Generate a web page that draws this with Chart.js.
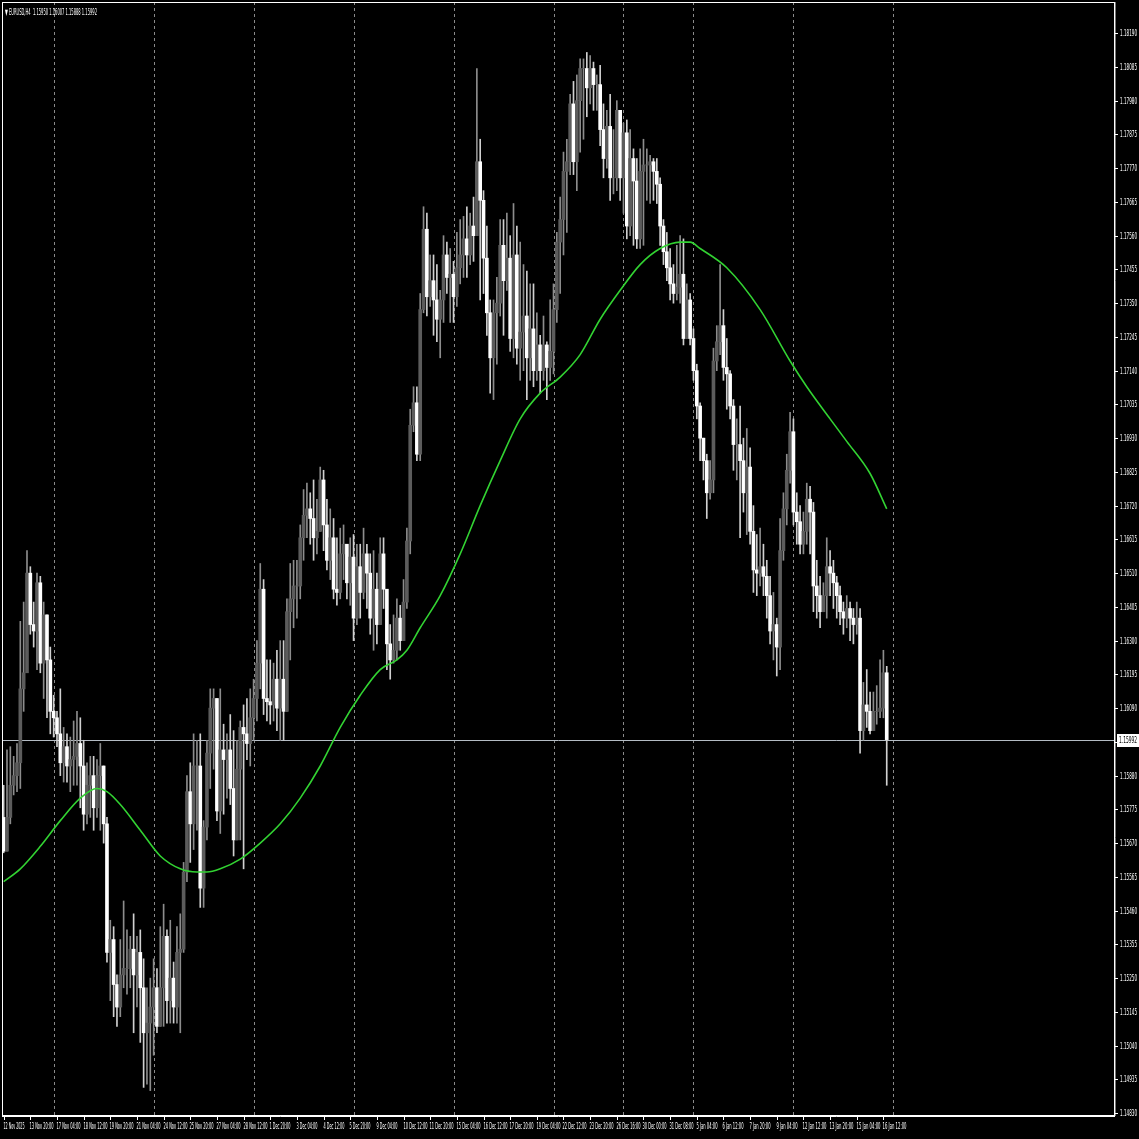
<!DOCTYPE html>
<html>
<head>
<meta charset="utf-8">
<style>
  html, body { margin: 0; padding: 0; background: #000; }
  #wrap { width: 1139px; height: 1139px; }
</style>
<script src="https://cdn.jsdelivr.net/npm/chart.js@4.4.1/dist/chart.umd.min.js"></script>
</head>
<body>
<div id="wrap"><canvas id="chart" width="1139" height="1139"></canvas></div>
<script>
// EURUSD H4, 12 Nov 2025 12:00 .. 16 Jan 2026 16:00
const firstOpen = 1.1575;
const closes = [
  1.15645,1.1575,1.1585,1.1588, 1.1592,1.1615,1.1620, 1.1651,1.1635,1.1633, 1.1648,1.1623,1.1638,
  1.1624,1.1608,1.1606, 1.1601,1.1592,1.1597, 1.1591,1.1593,1.1594, 1.1598,1.1591,1.1576,
  1.1585,1.1588,1.1578, 1.1588,1.1591,1.1573, 1.1533,1.1537,1.1523, 1.1516,1.1526,1.1528,
  1.1528,1.1534,1.1526, 1.1533,1.1522,1.1508, 1.1511,1.1516,1.1522, 1.1510,1.1522,1.1538,
  1.1518,1.1525,1.1516, 1.1533,1.1534,1.1558, 1.1583,1.1573,1.1591, 1.1591,1.1553,1.1572,
  1.1595,1.1609,1.1612, 1.1577,1.1596,1.1593, 1.1596,1.1584,1.1568, 1.1590,1.1603,1.1601,
  1.1598,1.1606,1.1612, 1.1623,1.1646,1.1612, 1.1611,1.1610,1.1618, 1.1609,1.1618,1.1608,
  1.1639,1.1643,1.1647, 1.1647,1.1662,1.1669, 1.1671,1.1668,1.1662, 1.1664,1.1680,1.1666,
  1.1655,1.1662,1.1646, 1.1645,1.1657,1.1660, 1.1648,1.1656,1.1637, 1.1653,1.1645,1.1657,
  1.1651,1.1637,1.1646, 1.1635,1.1657,1.1646, 1.1629,1.1624,1.1627, 1.1637,1.1630,1.1642,
  1.1661,
  1.1697,1.1704,1.1688,1.1733,1.1758,1.1737,1.1742,1.1736,1.1730,1.1736,
  1.1750,1.1743,1.1744,1.1737,1.1746,1.1750,1.1755,1.1750,1.1759,1.1756,
  1.1779,1.1767,1.1749,1.1732,1.1718,1.1732,1.1735,1.1753,1.1742,1.1749,
  1.1724,1.1750,1.1721,1.1726,1.1731,1.1718,1.1727,1.1714,1.1722,1.1714,
  1.1722,1.1715,1.1720,1.1733,1.1754,1.1761,1.1776,1.1779,1.1797,1.1779,
  1.1798,1.1808,1.1808,1.1802,1.1808,1.1803,
  1.1803,1.1789,1.1780, 1.1790,1.1774,1.1774, 1.1795,1.1774,1.1788, 1.1759,1.1780,1.1773,
  1.1755,1.1776,1.1778, 1.1778,1.1779,1.1776, 1.1772,1.1759,1.1751, 1.1746,1.1741,1.1738,
  1.1740,1.1744,1.1724,
  1.1736,1.1724,1.1714,1.1703,1.1693,1.1686,1.1676,1.1680,1.1717,1.1723,1.1728,1.1715,1.1713,1.1703,1.1691,1.1691,
  1.1686,1.1676,1.1684,1.1664,1.1652,1.1651,1.1653,1.1650,1.1644,1.1633,
  1.1635,1.1628,1.1658,1.1671,1.1683,1.1695,1.1670,1.1667,1.1660,1.1664,
  1.1674,1.1670,1.1647,1.1644,1.1639,1.1644,1.1653,1.1651,1.1648,1.1644,
  1.1639,1.1637,1.1640,1.1637,1.1635,1.1637,1.1602,1.1610,1.1608,1.1602,
  1.1608,1.1608,1.1609,1.1620,1.15992
];
const highs = [
  1.1585,1.1596,1.1597,1.1594, 1.1598,1.1636,1.1642, 1.1658,1.1653,1.1642, 1.1651,1.1650,1.1642,
  1.1627,1.1628,1.1613, 1.1608,1.1615,1.1603, 1.1601,1.1600,1.1605, 1.1608,1.1606,1.1599,
  1.1592,1.1594,1.1594, 1.1593,1.1598,1.1588, 1.1575,1.1543,1.1541, 1.1526,1.1537,1.1549,
  1.1540,1.1538,1.1545, 1.1538,1.1540,1.1531, 1.1522,1.1525,1.1531, 1.1528,1.1541,1.1548,
  1.1540,1.1543,1.1530, 1.1541,1.1545,1.1561, 1.1588,1.1592,1.1601, 1.1599,1.1601,1.1574,
  1.1599,1.1615,1.1615, 1.1610,1.1615,1.1604, 1.1601,1.1607,1.1602, 1.1599,1.1605,1.1610,
  1.1612,1.1615,1.1618, 1.1630,1.1654,1.1649, 1.1624,1.1624,1.1623, 1.1627,1.1630,1.1630,
  1.1643,1.1654,1.1655, 1.1655,1.1666,1.1677, 1.1679,1.1676,1.1680, 1.1674,1.1684,1.1683,
  1.1674,1.1671,1.1668, 1.1662,1.1665,1.1666, 1.1660,1.1662,1.1663, 1.1660,1.1660,1.1665,
  1.1660,1.1657,1.1658, 1.1651,1.1662,1.1662, 1.1640,1.1635,1.1638, 1.1643,1.1641,1.1649,
  1.1665,
  1.1702,1.1709,1.1709,1.1738,1.1765,1.1763,1.1750,1.1750,1.1747,1.1739,
  1.1756,1.1754,1.1752,1.1748,1.1757,1.1761,1.1762,1.1765,1.1763,1.1768,
  1.1808,1.1786,1.1770,1.1759,1.1736,1.1736,1.1743,1.1761,1.1761,1.1763,
  1.1756,1.1766,1.1759,1.1754,1.1747,1.1745,1.1741,1.1741,1.1732,1.1725,
  1.1731,1.1723,1.1736,1.1741,1.1757,1.1768,1.1782,1.1786,1.1800,1.1804,
  1.1806,1.1811,1.1811,1.1813,1.1812,1.1810,
  1.1806,1.1809,1.1797, 1.1795,1.1800,1.1789, 1.1798,1.1794,1.1791, 1.1792,1.1789,1.1783,
  1.1780,1.1783,1.1786, 1.1783,1.1781,1.1780, 1.1780,1.1774,1.1761, 1.1757,1.1752,1.1747,
  1.1753,1.1756,1.1755,
  1.1741,1.1738,1.1727,1.1716,1.1704,1.1693,1.1688,1.1686,1.1721,1.1728,1.1747,1.1733,1.1724,1.1714,1.1705,1.1699,
  1.1703,1.1693,1.1696,1.1690,1.1672,1.1663,1.1665,1.1660,1.1655,1.1650,
  1.1645,1.1637,1.1668,1.1676,1.1688,1.1701,1.1699,1.1676,1.1672,1.1670,
  1.1679,1.1678,1.1673,1.1655,1.1650,1.1648,1.1662,1.1658,1.1655,1.1650,
  1.1647,1.1642,1.1644,1.1642,1.1640,1.1642,1.1640,1.1617,1.1621,1.1614,
  1.1614,1.1616,1.1624,1.1627,1.1622
];
const lows = [
  1.1564,1.1565,1.1573,1.1582, 1.1583,1.1584,1.1608, 1.1633,1.1632,1.1628, 1.1621,1.1620,1.1612,
  1.1606,1.1601,1.1600, 1.1597,1.1588,1.1586, 1.1586,1.1583,1.1585, 1.1585,1.1578,1.1571,
  1.1573,1.1575,1.1571, 1.1575,1.1571,1.1567, 1.1530,1.1518,1.1513, 1.1510,1.1513,1.1522,
  1.1520,1.1522,1.1508, 1.1516,1.1505,1.1491, 1.1492,1.1490,1.1501, 1.1508,1.1510,1.1510,
  1.1511,1.1511,1.1511, 1.1511,1.1508,1.1533, 1.1555,1.1561,1.1565, 1.1571,1.1547,1.1547,
  1.1568,1.1584,1.1590, 1.1574,1.1570,1.1576, 1.1581,1.1579,1.1563, 1.1570,1.1568,1.1559,
  1.1593,1.1591,1.1599, 1.1605,1.1615,1.1607, 1.1605,1.1604,1.1605, 1.1602,1.1599,1.1599,
  1.1612,1.1624,1.1634, 1.1637,1.1643,1.1655, 1.1662,1.1660,1.1655, 1.1657,1.1665,1.1658,
  1.1652,1.1649,1.1643, 1.1641,1.1643,1.1649, 1.1643,1.1641,1.1630, 1.1635,1.1637,1.1643,
  1.1640,1.1632,1.1627, 1.1629,1.1637,1.1640, 1.1621,1.1618,1.1623, 1.1624,1.1627,1.1630,
  1.1640,
  1.1657,1.1695,1.1686,1.1686,1.1732,1.1731,1.1734,1.1725,1.1723,1.1718,
  1.1729,1.1738,1.1729,1.1729,1.1734,1.1741,1.1743,1.1743,1.1747,1.1748,
  1.1757,1.1736,1.1738,1.1725,1.1707,1.1705,1.1716,1.1731,1.1725,1.1739,
  1.1720,1.1718,1.1716,1.1711,1.1714,1.1705,1.1711,1.1709,1.1711,1.1707,
  1.1711,1.1705,1.1711,1.1713,1.1729,1.1738,1.1750,1.1757,1.1775,1.1775,
  1.1770,1.1782,1.1786,1.1793,1.1797,1.1795,
  1.1795,1.1784,1.1774, 1.1777,1.1767,1.1769, 1.1770,1.1767,1.1763, 1.1755,1.1756,1.1753,
  1.1752,1.1752,1.1753, 1.1767,1.1766,1.1767, 1.1766,1.1753,1.1747, 1.1742,1.1736,1.1735,
  1.1736,1.1735,1.1722,
  1.1732,1.1722,1.1711,1.1699,1.1686,1.1680,1.1668,1.1674,1.1676,1.1714,1.1719,1.1711,1.1702,1.1699,1.1683,1.1680,
  1.1662,1.1670,1.1663,1.1660,1.1645,1.1644,1.1647,1.1644,1.1637,1.1629,
  1.1624,1.1619,1.1621,1.1655,1.1666,1.1679,1.1666,1.1660,1.1657,1.1657,
  1.1660,1.1657,1.1639,1.1637,1.1634,1.1639,1.1637,1.1644,1.1640,1.1637,
  1.1635,1.1632,1.1634,1.1630,1.1629,1.1632,1.1595,1.1599,1.1603,1.1601,
  1.1604,1.1604,1.1606,1.1606,1.1585
];
// moving average (green) read at bar positions
const maBars = [0,5,11,17,23,28,31,35,41,47,53,58,61,65,71,77,83,89,95,101,107,113,118,121,125,131,137,143,149,155,161,167,173,179,185,191,197,203,206,209,217,227,236,241,248,253,260,265];
const maValues = [1.1555,1.1559,1.1566,1.1574,1.1581,1.1584,1.1583,1.1579,1.1571,1.1563,1.1559,1.1558,1.1558,1.1559,1.1562,1.1567,1.1573,1.1581,1.1591,1.1603,1.1613,1.1621,1.1624,1.1627,1.1634,1.1644,1.1657,1.1672,1.1686,1.1699,1.1707,1.1712,1.1719,1.1730,1.1739,1.1747,1.1752,1.1754,1.1754,1.1752,1.1746,1.1733,1.1717,1.1709,1.1699,1.1692,1.1682,1.1671];
// time labels, one every 8 bars
const timeLabels = ['12 Nov 2025','13 Nov 20:00','17 Nov 04:00','18 Nov 12:00','19 Nov 20:00','21 Nov 04:00','24 Nov 12:00','25 Nov 20:00','27 Nov 04:00','28 Nov 12:00','1 Dec 20:00','3 Dec 04:00','4 Dec 12:00','5 Dec 20:00','9 Dec 04:00','10 Dec 12:00','11 Dec 20:00','15 Dec 04:00','16 Dec 12:00','17 Dec 20:00','19 Dec 04:00','22 Dec 12:00','23 Dec 20:00','26 Dec 16:00','30 Dec 00:00','31 Dec 08:00','5 Jan 04:00','6 Jan 12:00','7 Jan 20:00','9 Jan 04:00','12 Jan 12:00','13 Jan 20:00','15 Jan 04:00','16 Jan 12:00'];
const weekStartBars = [15,45,75,105,135,165,186,207,237,267];
const priceTicks = [1.14830,1.14935,1.15040,1.15145,1.15250,1.15355,1.15460,1.15565,1.15670,1.15775,1.15880,1.15985,1.16090,1.16195,1.16300,1.16405,1.16510,1.16615,1.16720,1.16825,1.16930,1.17035,1.17140,1.17245,1.17350,1.17455,1.17560,1.17665,1.17770,1.17875,1.17980,1.18085,1.18190];
const lastPrice = 1.15992;
const title = '\u25BC EURUSD,H4  1.15950 1.16007 1.15888 1.15992';
const totalSlots = 334;

const opens = closes.map((c, i) => i === 0 ? firstOpen : closes[i - 1]);
const slots = Array.from({ length: totalSlots }, (_, i) => i);
const bull = closes.map((c, i) => c >= opens[i]);

const wickData = closes.map((c, i) => [Math.min(lows[i], opens[i], c), Math.max(highs[i], opens[i], c)]);
const bodyData = closes.map((c, i) => [opens[i], c]);

const font = '8px "DejaVu Sans", sans-serif';

const decor = {
  id: 'decor',
  beforeDatasetsDraw(chart) {
    const { ctx, chartArea: a, scales: { x, y } } = chart;
    ctx.save();
    ctx.strokeStyle = '#8a8a8a';
    ctx.lineWidth = 1;
    ctx.setLineDash([3, 3]);
    weekStartBars.forEach(b => {
      const px = Math.round(x.getPixelForValue(b)) + 0.5;
      ctx.beginPath(); ctx.moveTo(px, a.top); ctx.lineTo(px, a.bottom); ctx.stroke();
    });
    ctx.setLineDash([]);
    // current price line
    const py = Math.round(y.getPixelForValue(lastPrice)) + 0.5;
    ctx.strokeStyle = '#b4bcc4';
    ctx.beginPath(); ctx.moveTo(a.left, py); ctx.lineTo(a.right, py); ctx.stroke();
    ctx.restore();
  },
  afterDraw(chart) {
    const { ctx, chartArea: a, scales: { x, y } } = chart;
    ctx.save();
    // frame
    ctx.strokeStyle = '#ffffff';
    ctx.lineWidth = 1;
    ctx.strokeRect(a.left + 0.5, a.top + 0.5, a.right - a.left - 1, a.bottom - a.top - 1);
    ctx.strokeStyle = '#777';
    ctx.beginPath(); ctx.moveTo(a.right + 0.5, a.top); ctx.lineTo(a.right + 0.5, a.bottom); ctx.stroke();
    ctx.strokeStyle = '#ffffff';
    ctx.beginPath(); ctx.moveTo(a.left, a.bottom + 0.5); ctx.lineTo(a.right, a.bottom + 0.5); ctx.stroke();
    // y ticks
    ctx.font = font;
    ctx.fillStyle = '#ffffff';
    ctx.textBaseline = 'middle';
    ctx.textAlign = 'left';
    ctx.strokeStyle = '#ffffff';
    priceTicks.forEach(p => {
      const py = Math.round(y.getPixelForValue(p)) + 0.5;
      ctx.beginPath(); ctx.moveTo(a.right, py); ctx.lineTo(a.right + 3, py); ctx.stroke();
      ctx.fillText(p.toFixed(5), a.right + 5, py, 17);
    });
    // x ticks
    ctx.textBaseline = 'top';
    timeLabels.forEach((t, k) => {
      const px = Math.round(x.getPixelForValue(k * 8)) + 0.5;
      ctx.beginPath(); ctx.moveTo(px, a.bottom); ctx.lineTo(px, a.bottom + 4); ctx.stroke();
      ctx.fillText(t, px - 1, a.bottom + 7, t.length > 11 ? 24 : 21);
    });
    // price label
    const py = Math.round(y.getPixelForValue(lastPrice));
    ctx.fillStyle = '#ffffff';
    ctx.fillRect(a.right + 2, py - 6, 22, 13);
    ctx.fillStyle = '#000000';
    ctx.textBaseline = 'middle';
    ctx.fillText(lastPrice.toFixed(5), a.right + 4, py + 0.5, 18);
    // title
    ctx.fillStyle = '#ffffff';
    ctx.textBaseline = 'top';
    ctx.fillText(title, a.left + 3, a.top + 7, 92);
    ctx.restore();
  }
};

new Chart(document.getElementById('chart'), {
  data: {
    labels: slots,
    datasets: [
      {
        type: 'bar', data: wickData, grouped: false, barThickness: 1,
        backgroundColor: bull.map(b => b ? '#8c8c8c' : '#d0d0d0'), borderWidth: 0, order: 3
      },
      {
        type: 'bar', data: bodyData, grouped: false, barThickness: 3,
        backgroundColor: bull.map(b => b ? '#5c5c5c' : '#ffffff'), borderWidth: 0, order: 2
      },
      {
        type: 'line', data: maBars.map((b, i) => ({ x: b, y: maValues[i] })),
        borderColor: '#32d232', borderWidth: 1.6, pointRadius: 0, cubicInterpolationMode: 'monotone', order: 1
      }
    ]
  },
  options: {
    responsive: false,
    devicePixelRatio: 1,
    animation: false,
    layout: { padding: { left: 2, top: 2, right: 0, bottom: 0 } },
    plugins: { legend: { display: false }, tooltip: { enabled: false } },
    scales: {
      x: {
        type: 'category', offset: true,
        grid: { display: false }, border: { display: false },
        ticks: { display: false },
        afterFit(s) { s.height = 23; }
      },
      y: {
        position: 'right', min: 1.14821, max: 1.18287,
        grid: { display: false }, border: { display: false },
        ticks: { display: false },
        afterFit(s) { s.width = 24; }
      }
    }
  },
  plugins: [decor]
});
</script>
</body>
</html>
